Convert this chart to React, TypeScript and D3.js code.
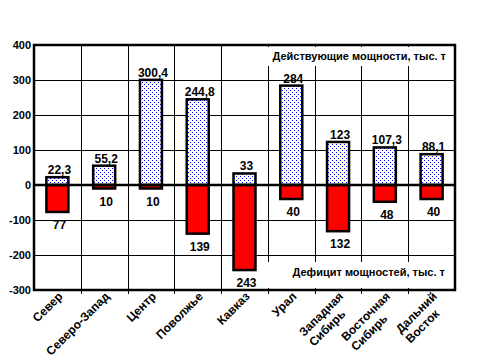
import React, { useEffect, useRef } from "react";
import * as d3 from "d3";

// regions, two-line names split with \n
const regions = [
  "Север",
  "Северо-Запад",
  "Центр",
  "Поволжье",
  "Кавказ",
  "Урал",
  "Западная\nСибирь",
  "Восточная\nСибирь",
  "Дальний\nВосток",
];
const capacity = [22.3, 55.2, 300.4, 244.8, 33, 284, 123, 107.3, 88.1];
const deficit = [77, 10, 10, 139, 243, 40, 132, 48, 40];
const yTicks = [-300, -200, -100, 0, 100, 200, 300, 400];
const capacityTitle = "Действующие мощности, тыс. т";
const deficitTitle = "Дефицит мощностей, тыс. т";

const fmt = (v: number) => String(v).replace(".", ",");

export default function App() {
  const svgRef = useRef<SVGSVGElement>(null);

  useEffect(() => {
    const svg = d3.select(svgRef.current);
    svg.selectAll("*").remove();

    const left = 34, right = 455, top = 45, bottom = 290;
    const font = "'Liberation Sans', Arial, sans-serif";

    const x = d3.scaleBand().domain(regions).range([left, right]);
    const y = d3.scaleLinear().domain([-300, 400]).range([bottom, top]);
    const bw = 22;
    const cx = (d: string) => (x(d) as number) + x.bandwidth() / 2;

    const pat = svg.append("defs").append("pattern")
      .attr("id", "dots")
      .attr("width", 4).attr("height", 4)
      .attr("patternUnits", "userSpaceOnUse");
    pat.append("rect").attr("width", 4).attr("height", 4).attr("fill", "#fff");
    pat.append("rect").attr("x", 0).attr("y", 0).attr("width", 1).attr("height", 1).attr("fill", "#0000ff");
    pat.append("rect").attr("x", 2).attr("y", 2).attr("width", 1).attr("height", 1).attr("fill", "#0000ff");

    const grid = svg.append("g").attr("shape-rendering", "crispEdges");
    grid.selectAll(".hgrid").data(yTicks).join("line")
      .attr("class", "hgrid")
      .attr("x1", left).attr("x2", right)
      .attr("y1", d => Math.round(y(d)) + 0.5).attr("y2", d => Math.round(y(d)) + 0.5)
      .attr("stroke", "#000").attr("stroke-width", 1);
    grid.selectAll(".vgrid").data(regions.slice(1)).join("line")
      .attr("class", "vgrid")
      .attr("x1", d => Math.round(x(d) as number) + 0.5).attr("x2", d => Math.round(x(d) as number) + 0.5)
      .attr("y1", top).attr("y2", bottom + 4)
      .attr("stroke", "#000").attr("stroke-width", 1);

    // white boxes behind the two titles
    svg.append("rect").attr("x", 257).attr("y", 47).attr("width", 196).attr("height", 19).attr("fill", "#fff");
    svg.append("rect").attr("x", 265).attr("y", 262).attr("width", 188).attr("height", 26).attr("fill", "#fff");

    svg.append("g").selectAll("rect").data(regions).join("rect")
      .attr("x", d => cx(d) - bw / 2)
      .attr("y", (d, i) => y(capacity[i]))
      .attr("width", bw)
      .attr("height", (d, i) => y(0) - y(capacity[i]))
      .attr("fill", "url(#dots)")
      .attr("stroke", "#000").attr("stroke-width", 2.5);

    svg.append("g").selectAll("rect").data(regions).join("rect")
      .attr("x", d => cx(d) - bw / 2)
      .attr("y", y(0))
      .attr("width", bw)
      .attr("height", (d, i) => y(-deficit[i]) - y(0))
      .attr("fill", "#ff0000")
      .attr("stroke", "#000").attr("stroke-width", 2.5);

    svg.append("line")
      .attr("x1", left).attr("x2", right)
      .attr("y1", y(0)).attr("y2", y(0))
      .attr("stroke", "#000").attr("stroke-width", 2.5);
    svg.append("rect")
      .attr("x", left).attr("y", top)
      .attr("width", right - left).attr("height", bottom - top)
      .attr("fill", "none").attr("stroke", "#000").attr("stroke-width", 2.5);

    const txt = svg.append("g")
      .attr("font-family", font).attr("font-weight", "bold").attr("font-size", 11).attr("fill", "#000");

    txt.selectAll(".ytick").data(yTicks).join("text")
      .attr("class", "ytick")
      .attr("x", 31).attr("y", d => y(d) + 4)
      .attr("text-anchor", "end")
      .text(d => d);

    txt.selectAll(".cap").data(regions).join("text")
      .attr("class", "cap")
      .attr("x", d => cx(d) + 2)
      .attr("y", (d, i) => y(capacity[i]) - 3)
      .attr("text-anchor", "middle").attr("font-size", 12)
      .text((d, i) => fmt(capacity[i]));

    txt.selectAll(".def").data(regions).join("text")
      .attr("class", "def")
      .attr("x", d => cx(d) + 2)
      .attr("y", (d, i) => y(-deficit[i]) + 17)
      .attr("text-anchor", "middle").attr("font-size", 12)
      .text((d, i) => fmt(deficit[i]));

    txt.append("text").attr("x", 446).attr("y", 60).attr("text-anchor", "end").text(capacityTitle);
    txt.append("text").attr("x", 445).attr("y", 276).attr("text-anchor", "end").text(deficitTitle);

    // rotated category labels, lines left aligned, block right anchored at the tick
    regions.forEach(name => {
      const lines = name.split("\n");
      const lg = txt.append("g")
        .attr("transform", `translate(${cx(name) + 6},297) rotate(-45)`)
        .attr("font-size", 12);
      const nodes = lines.map((l, i) =>
        lg.append("text").attr("y", i * 14).text(l));
      const w = d3.max(nodes, n => (n.node() as SVGTextElement).getComputedTextLength()) || 0;
      nodes.forEach(n => n.attr("x", -w));
    });
  }, []);

  return (
    <svg
      ref={svgRef}
      width={479}
      height={359}
      style={{ position: "absolute", left: 0, top: 0, background: "#fff" }}
    />
  );
}
